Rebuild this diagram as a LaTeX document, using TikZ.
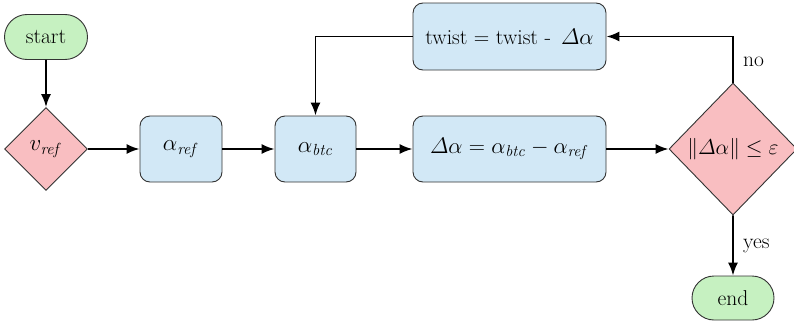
\RequirePackage{fix-cm}
\documentclass[tikz,border=0pt]{standalone}
\usepackage{amsmath}
\usetikzlibrary{arrows.meta,shapes.geometric,shapes.misc}
\definecolor{termgreen}{HTML}{C6F1C1}
\definecolor{procblue}{HTML}{D2E8F6}
\definecolor{decpink}{HTML}{F9BEC1}
\begin{document}
\begin{tikzpicture}[x=1pt,y=-1pt,
  base/.style={draw=black!80, line width=0.9pt, font=\rmfamily\fontsize{21.5}{26}\selectfont, inner sep=0pt},
  mathbig/.style={font=\rmfamily\fontsize{23}{28}\selectfont},
  mathmid/.style={font=\rmfamily\fontsize{22.5}{27}\selectfont},
  term/.style={base, rounded rectangle, fill=termgreen, minimum width=83pt, minimum height=45pt},
  proc/.style={base, rounded corners=10pt, fill=procblue, minimum height=66pt},
  dec/.style={base, diamond, aspect=1, fill=decpink},
  arr/.style={line width=1.8pt, -{Latex[length=13pt,width=10pt]}},
  lab/.style={font=\rmfamily\fontsize{21.5}{26}\selectfont}]
\useasboundingbox (0,0) rectangle (794,324);
\node[term] (start) at (46,37) {start};
\node[dec, mathbig, minimum width=83pt, minimum height=83pt] (vref) at (46,149) {$v_{\mathit{ref}}$};
\node[proc, mathbig, minimum width=82pt] (aref) at (181,149) {$\alpha_{\mathit{ref}}$};
\node[proc, mathbig, minimum width=81pt] (abtc) at (315.5,149) {$\alpha_{\mathit{btc}}$};
\node[proc, mathmid, minimum width=193pt] (dalpha) at (509.5,149) {$\varDelta\alpha = \alpha_{\mathit{btc}} - \alpha_{\mathit{ref}}$};
\node[proc, minimum width=193pt, minimum height=67pt] (twist) at (509.5,36.5) {twist = twist - \,{\fontsize{22.5}{27}\selectfont$\varDelta\alpha$}};
\node[dec, minimum width=128pt, minimum height=132pt] (dec) at (733,149) {$\|\varDelta\alpha\| \leq \varepsilon$};
\node[term, minimum width=82pt, minimum height=44pt] (end) at (733,298) {end};
\draw[arr] (start) -- (vref);
\draw[arr] (vref) -- (aref);
\draw[arr] (aref) -- (abtc);
\draw[arr] (abtc) -- (dalpha);
\draw[arr] (dalpha) -- (dec);
\draw[arr] (dec.north) |- (twist.east) node[lab, pos=0.22, right=6pt] {no};
\draw[arr] (twist.west) -| (abtc.north);
\draw[arr] (dec.south) -- (end) node[lab, midway, right=6pt] {yes};
\end{tikzpicture}
\end{document}
